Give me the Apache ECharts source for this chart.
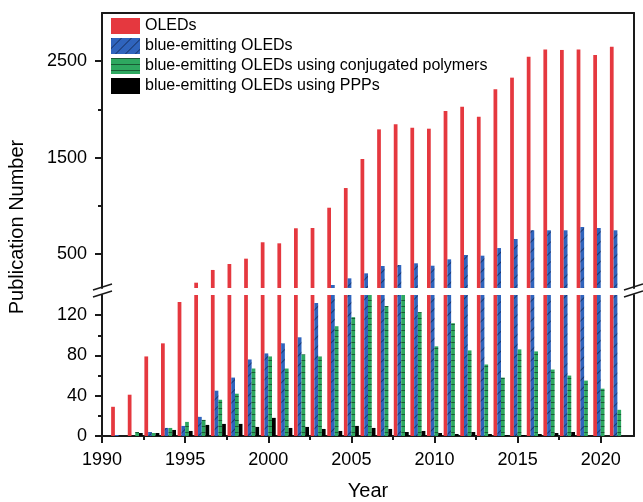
<!DOCTYPE html>
<html>
<head>
<meta charset="utf-8">
<script src="https://cdn.jsdelivr.net/npm/echarts@6/dist/echarts.min.js"></script>
<style>
  html, body { margin: 0; padding: 0; background: #fff; }
  #chart { width: 643px; height: 502px; }
</style>
</head>
<body>
<div id="chart"></div>
<script>
// Publication counts per year, 1991-2021
const years = [1991, 1992, 1993, 1994, 1995, 1996, 1997, 1998, 1999, 2000,
               2001, 2002, 2003, 2004, 2005, 2006, 2007, 2008, 2009, 2010,
               2011, 2012, 2013, 2014, 2015, 2016, 2017, 2018, 2019, 2020, 2021];
const oleds = [29, 41, 79, 92, 133, 205, 337, 399, 454, 624,
               613, 769, 772, 982, 1186, 1487, 1794, 1846, 1812, 1801,
               1984, 2029, 1926, 2209, 2330, 2547, 2623, 2617, 2623, 2565, 2651];
const blueOleds = [1, 0, 4, 8, 10, 19, 45, 58, 76, 82,
                   92, 98, 132, 181, 250, 302, 378, 388, 406, 381,
                   447, 492, 485, 564, 658, 748, 748, 748, 782, 772, 748];
const bluePolymers = [0, 4, 3, 8, 14, 16, 36, 42, 67, 79,
                      67, 81, 79, 109, 118, 145, 129, 145, 123, 89,
                      112, 85, 71, 58, 86, 84, 66, 60, 55, 47, 26];
const bluePPPs = [0, 3, 3, 6, 5, 11, 12, 12, 9, 18,
                  8, 9, 7, 5, 10, 8, 7, 4, 5, 3,
                  2, 4, 2, 1, 1, 2, 3, 4, 0, 0, 0];

const seriesNames = ['OLEDs', 'blue-emitting OLEDs',
                     'blue-emitting OLEDs using conjugated polymers',
                     'blue-emitting OLEDs using PPPs'];

// Tick positions
const yearTicks = [1990, 1995, 2000, 2005, 2010, 2015, 2020];
const yearMinorTicks = [1992.5, 1997.5, 2002.5, 2007.5, 2012.5, 2017.5];
const lowerTicks = [0, 40, 80, 120];
const lowerMinorTicks = [20, 60, 100];
const upperTicks = [500, 1500, 2500];
const upperMinorTicks = [1000, 2000];

const FONT = '"Liberation Sans", Arial, sans-serif';
const AXIS_COLOR = '#1a1a1a';

const colors = ['#e5383f', '#2f64bd', '#2ea860', '#000000'];
const decals = [
  null,
  { symbol: 'rect', symbolSize: 1, color: 'rgba(10,20,50,0.55)',
    dashArrayX: [1, 0], dashArrayY: [1, 6], rotation: -Math.PI / 4 },
  { symbol: 'rect', symbolSize: 1, color: 'rgba(0,0,0,0.45)',
    dashArrayX: [1, 0], dashArrayY: [1, 5], rotation: 0 },
  null
];
const values = [oleds, blueOleds, bluePolymers, bluePPPs];

function pairs(arr) {
  return years.map((y, i) => [y, arr[i]]);
}

const series = [];
// upper panel (xAxis 0 / yAxis 0) and lower panel (xAxis 1 / yAxis 3)
[[0, 0], [1, 3]].forEach(([xi, yi]) => {
  values.forEach((arr, k) => {
    const itemStyle = { color: colors[k] };
    if (decals[k]) itemStyle.decal = decals[k];
    series.push({
      name: seriesNames[k],
      type: 'bar',
      xAxisIndex: xi,
      yAxisIndex: yi,
      data: pairs(arr),
      itemStyle: itemStyle,
      barGap: '0%',
      barCategoryGap: '10%',
      clip: true,
      silent: true
    });
  });
});

const lineStyle = { show: true, onZero: false, lineStyle: { color: AXIS_COLOR, width: 2 } };
const noLine = { show: false };
const plain = v => String(v);
const labelStyle = { color: '#000', fontSize: 18, fontFamily: FONT, formatter: plain };

const option = {
  animation: false,
  backgroundColor: '#fff',
  grid: [
    { left: 102, right: 9, top: 13, height: 275 },
    { left: 102, right: 9, top: 295, height: 146 }
  ],
  legend: {
    data: seriesNames,
    orient: 'vertical',
    left: 106,
    top: 13,
    itemWidth: 29,
    itemHeight: 16,
    itemGap: 4,
    icon: 'rect',
    selectedMode: false,
    textStyle: { color: '#000', fontSize: 16, fontFamily: FONT }
  },
  xAxis: [
    { gridIndex: 0, type: 'value', min: 1990, max: 2022, position: 'top',
      axisLine: lineStyle, axisTick: { show: false }, axisLabel: { show: false },
      splitLine: { show: false } },
    { gridIndex: 1, type: 'value', min: 1990, max: 2022, position: 'bottom',
      axisLine: lineStyle,
      axisTick: { show: true, customValues: yearTicks, length: 7,
                  lineStyle: { color: AXIS_COLOR, width: 2 } },
      axisLabel: Object.assign({ customValues: yearTicks, margin: 15 }, labelStyle),
      splitLine: { show: false },
      name: 'Year', nameLocation: 'middle', nameGap: 45,
      nameTextStyle: { color: '#000', fontSize: 20, fontFamily: FONT } },
    { gridIndex: 1, type: 'value', min: 1990, max: 2022, position: 'bottom',
      axisLine: noLine,
      axisTick: { show: true, customValues: yearMinorTicks, length: 4,
                  lineStyle: { color: AXIS_COLOR, width: 2 } },
      axisLabel: { show: false }, splitLine: { show: false } }
  ],
  yAxis: [
    { gridIndex: 0, type: 'value', min: 150, max: 3000, position: 'left',
      axisLine: lineStyle,
      axisTick: { show: true, customValues: upperTicks, length: 7,
                  lineStyle: { color: AXIS_COLOR, width: 2 } },
      axisLabel: Object.assign({ customValues: upperTicks, margin: 15 }, labelStyle),
      splitLine: { show: false } },
    { gridIndex: 0, type: 'value', min: 150, max: 3000, position: 'left',
      axisLine: noLine,
      axisTick: { show: true, customValues: upperMinorTicks, length: 4,
                  lineStyle: { color: AXIS_COLOR, width: 2 } },
      axisLabel: { show: false }, splitLine: { show: false } },
    { gridIndex: 0, type: 'value', min: 150, max: 3000, position: 'right',
      axisLine: lineStyle, axisTick: { show: false }, axisLabel: { show: false },
      splitLine: { show: false } },
    { gridIndex: 1, type: 'value', min: 0, max: 140, position: 'left',
      axisLine: lineStyle,
      axisTick: { show: true, customValues: lowerTicks, length: 7,
                  lineStyle: { color: AXIS_COLOR, width: 2 } },
      axisLabel: Object.assign({ customValues: lowerTicks, margin: 15 }, labelStyle),
      splitLine: { show: false } },
    { gridIndex: 1, type: 'value', min: 0, max: 140, position: 'left',
      axisLine: noLine,
      axisTick: { show: true, customValues: lowerMinorTicks, length: 4,
                  lineStyle: { color: AXIS_COLOR, width: 2 } },
      axisLabel: { show: false }, splitLine: { show: false } },
    { gridIndex: 1, type: 'value', min: 0, max: 140, position: 'right',
      axisLine: lineStyle, axisTick: { show: false }, axisLabel: { show: false },
      splitLine: { show: false } }
  ],
  graphic: [
    // shared vertical axis title
    { type: 'text', x: 17, y: 227, rotation: Math.PI / 2,
      style: { text: 'Publication Number', fill: '#000', fontSize: 20,
               fontFamily: FONT, align: 'center', verticalAlign: 'middle' } },
    // axis-break marks, left side
    { type: 'line', shape: { x1: 93, y1: 290, x2: 112, y2: 284 },
      style: { stroke: AXIS_COLOR, lineWidth: 1.5 } },
    { type: 'line', shape: { x1: 93, y1: 297, x2: 112, y2: 291 },
      style: { stroke: AXIS_COLOR, lineWidth: 1.5 } },
    // axis-break marks, right side
    { type: 'line', shape: { x1: 624, y1: 290, x2: 643, y2: 284 },
      style: { stroke: AXIS_COLOR, lineWidth: 1.5 } },
    { type: 'line', shape: { x1: 624, y1: 297, x2: 643, y2: 291 },
      style: { stroke: AXIS_COLOR, lineWidth: 1.5 } }
  ],
  series: series
};

const chart = echarts.init(document.getElementById('chart'), null, { renderer: 'canvas' });
chart.setOption(option);
</script>
</body>
</html>
